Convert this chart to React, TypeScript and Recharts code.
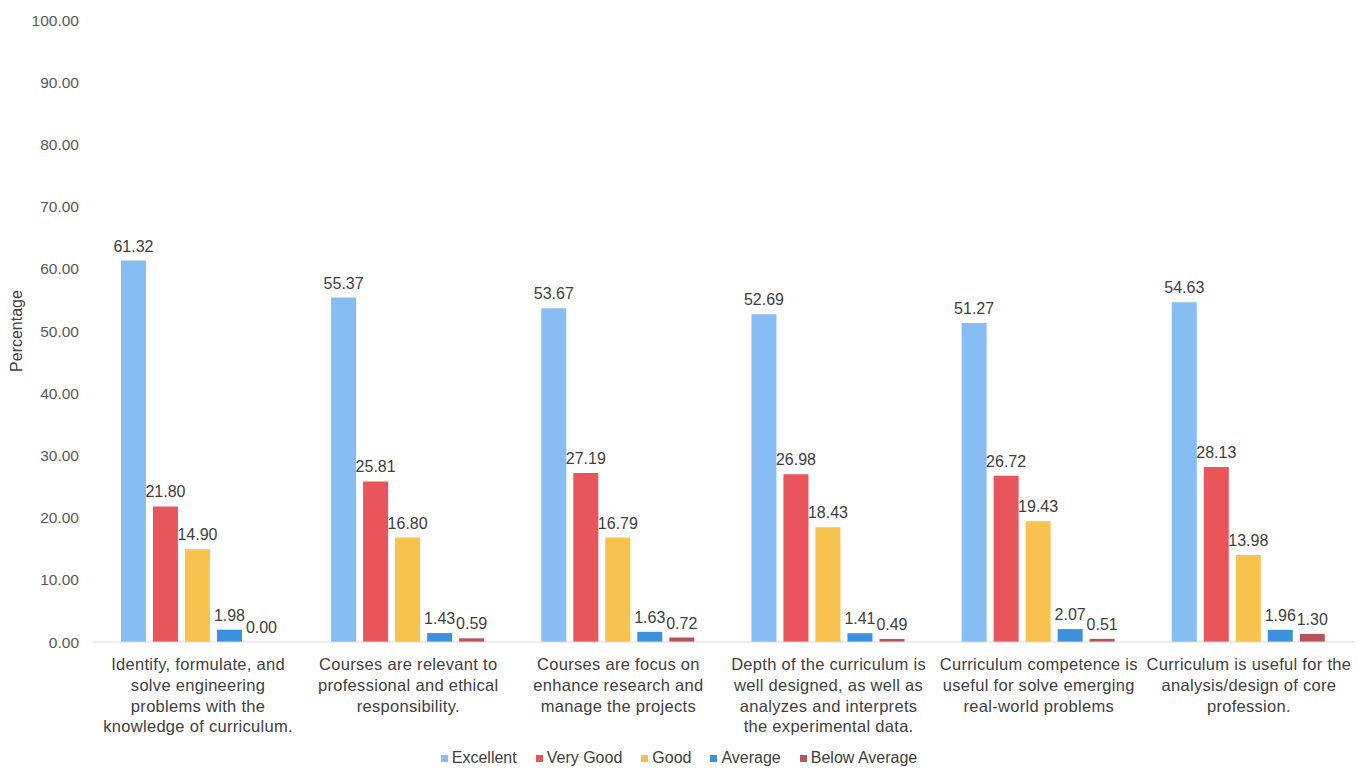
import { BarChart, Bar, XAxis, YAxis, Legend, LabelList } from 'recharts';

const categories = [
  'Identify, formulate, and\nsolve engineering\nproblems with the\nknowledge of curriculum.',
  'Courses are relevant to\nprofessional and ethical\nresponsibility.',
  'Courses are focus on\nenhance research and\nmanage the projects',
  'Depth of the curriculum is\nwell designed, as well as\nanalyzes and interprets\nthe experimental data.',
  'Curriculum competence is\nuseful for solve emerging\nreal-world problems',
  'Curriculum is useful for the\nanalysis/design of core\nprofession.',
];

const excellent = [61.32, 55.37, 53.67, 52.69, 51.27, 54.63];
const veryGood = [21.8, 25.81, 27.19, 26.98, 26.72, 28.13];
const good = [14.9, 16.8, 16.79, 18.43, 19.43, 13.98];
const average = [1.98, 1.43, 1.63, 1.41, 2.07, 1.96];
const belowAverage = [0.0, 0.59, 0.72, 0.49, 0.51, 1.3];

const yTicks = [0, 10, 20, 30, 40, 50, 60, 70, 80, 90, 100];

const series = [
  { key: 'Excellent', color: '#86bef3' },
  { key: 'Very Good', color: '#e8565b' },
  { key: 'Good', color: '#f8c24f' },
  { key: 'Average', color: '#3b91de' },
  { key: 'Below Average', color: '#b9525f' },
];

const data = categories.map((name, i) => ({
  name,
  Excellent: excellent[i],
  'Very Good': veryGood[i],
  Good: good[i],
  Average: average[i],
  'Below Average': belowAverage[i],
}));

const FONT = '"Liberation Sans", Arial, sans-serif';

function CategoryTick({ x, y, payload }: any) {
  const lines = String(payload.value).split('\n');
  return (
    <text
      x={x}
      y={y}
      textAnchor="middle"
      fill="#404040"
      fontSize={16.5}
      fontFamily={FONT}
      style={{ letterSpacing: 0.3 }}
    >
      {lines.map((line, i) => (
        <tspan key={i} x={x} dy={i === 0 ? 20 : 20.8}>
          {line}
        </tspan>
      ))}
    </text>
  );
}

function LegendContent() {
  return (
    <div
      style={{
        display: 'flex',
        justifyContent: 'center',
        gap: 19,
        fontFamily: FONT,
        fontSize: 16,
        color: '#404040',
        lineHeight: '20px',
        paddingLeft: 4,
      }}
    >
      {series.map((s) => (
        <span key={s.key} style={{ display: 'inline-flex', alignItems: 'center' }}>
          <span style={{ width: 7, height: 7, background: s.color, marginRight: 4, display: 'inline-block' }} />
          {s.key}
        </span>
      ))}
    </div>
  );
}

export default function App() {
  return (
    <div style={{ position: 'absolute', left: 0, top: 0, background: '#fff' }}>
      <BarChart
        width={1369}
        height={768}
        data={data}
        margin={{ top: 20, right: 15, bottom: 0, left: 0 }}
        barGap={7}
        barCategoryGap="13.3%"
      >
        <XAxis
          dataKey="name"
          interval={0}
          tickLine={false}
          axisLine={{ stroke: '#d9d9d9' }}
          height={106}
          tick={<CategoryTick />}
        />
        <YAxis
          width={93}
          domain={[0, 100]}
          ticks={yTicks}
          interval={0}
          axisLine={false}
          tickLine={false}
          tickMargin={8}
          tickFormatter={(v: number) => v.toFixed(2)}
          tick={{ fill: '#595959', fontSize: 15.5, fontFamily: FONT }}
          label={{
            value: 'Percentage',
            angle: -90,
            position: 'insideLeft',
            offset: 16,
            style: { fill: '#404040', fontSize: 16, fontFamily: FONT, textAnchor: 'middle' },
          }}
        />
        <Legend verticalAlign="bottom" content={<LegendContent />} />
        {series.map((s) => (
          <Bar
            key={s.key}
            dataKey={s.key}
            fill={s.color}
            isAnimationActive={false}
            minPointSize={(v: any) => (Number(v) === 0 ? 0.01 : 0)}
          >
            <LabelList
              dataKey={s.key}
              position="top"
              offset={9}
              formatter={(v: any) => Number(v).toFixed(2)}
              style={{ fill: '#404040', fontSize: 16, fontFamily: FONT }}
            />
          </Bar>
        ))}
      </BarChart>
    </div>
  );
}
